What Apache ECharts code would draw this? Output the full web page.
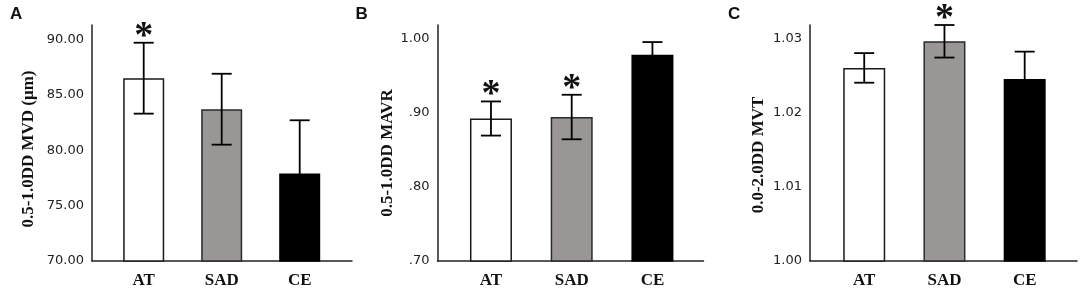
<!DOCTYPE html>
<html>
<head>
<meta charset="utf-8">
<script src="https://cdn.jsdelivr.net/npm/echarts@6/dist/echarts.min.js"></script>
<style>
  html, body { margin: 0; padding: 0; background: #fff; }
  #chart { width: 1084px; height: 291px; }
</style>
</head>
<body>
<div id="chart"></div>
<script>
// groups on the x axis
const categories = ['AT', 'SAD', 'CE'];

// A: 0.5-1.0DD MVD (μm)
const mvdMean = [86.5, 83.7, 77.9];
const mvdErr = [3.2, 3.2, 4.8];
const mvdSig = [1, 0, 0];

// B: 0.5-1.0DD MAVR
const mavrMean = [0.892, 0.894, 0.978];
const mavrErr = [0.023, 0.030, 0.017];
const mavrSig = [1, 1, 0];

// C: 0.0-2.0DD MVT
const mvtMean = [1.0261, 1.0297, 1.0246];
const mvtErr = [0.0020, 0.0022, 0.0037];
const mvtSig = [0, 1, 0];

const barColors = ['#ffffff', '#9a9696', '#000000'];
const barBorders = ['#1a1a1a', '#2a2a2a', '#000000'];

const serif = '"Liberation Serif", "Times New Roman", serif';
const sans = '"DejaVu Sans", sans-serif';

// panel layout: frame = where axis lines go, data = where the bands sit
const panels = [
  {
    letter: 'A', name: '0.5-1.0DD MVD (μm)', mean: mvdMean, err: mvdErr, sig: mvdSig,
    min: 70, max: 91.3, interval: 5, fmt: v => v.toFixed(2),
    frame: { left: 92, width: 260 }, data: { left: 104.7, width: 234 },
    barWidth: 41, nameGap: 55, namePad: 12
  },
  {
    letter: 'B', name: '0.5-1.0DD MAVR', mean: mavrMean, err: mavrErr, sig: mavrSig,
    min: 0.7, max: 1.018, interval: 0.1, fmt: v => v.toFixed(2).replace(/^0/, ''),
    frame: { left: 437.5, width: 266 }, data: { left: 450.6, width: 242.2 },
    barWidth: 42, nameGap: 41, namePad: 20
  },
  {
    letter: 'C', name: '0.0-2.0DD MVT', mean: mvtMean, err: mvtErr, sig: mvtSig,
    min: 1.0, max: 1.0319, interval: 0.01, fmt: v => v.toFixed(2),
    frame: { left: 810, width: 267 }, data: { left: 824.1, width: 240.7 },
    barWidth: 42, nameGap: 43, namePad: 24
  }
];

const plotTop = 25, plotHeight = 236;

const option = {
  animation: false,
  backgroundColor: '#fff',
  title: [], grid: [], xAxis: [], yAxis: [], series: []
};

panels.forEach((p, i) => {
  const fg = i * 2, dg = i * 2 + 1;
  option.title.push({
    text: p.letter, left: p.frame.left - 82, top: 6, padding: 0,
    textStyle: { fontFamily: '"Liberation Sans", Arial, sans-serif', fontWeight: 'bold', fontSize: 17, color: '#111' }
  });
  option.grid.push({ left: p.frame.left, top: plotTop, width: p.frame.width, height: plotHeight });
  option.grid.push({ left: p.data.left, top: plotTop, width: p.data.width, height: plotHeight });

  // frame axes
  option.xAxis.push({
    gridIndex: fg, type: 'value', min: 0, max: 1,
    axisLine: { show: true, onZero: false, lineStyle: { color: '#222', width: 1.5 } },
    axisTick: { show: false }, axisLabel: { show: false }, splitLine: { show: false }
  });
  option.yAxis.push({
    gridIndex: fg, type: 'value', min: p.min, max: p.max, interval: p.interval,
    name: p.name, nameLocation: 'middle', nameGap: p.nameGap,
    nameTextStyle: { fontFamily: serif, fontWeight: 'bold', fontSize: 17, color: '#111', padding: [0, p.namePad, 0, 0] },
    axisLine: { show: true, onZero: false, lineStyle: { color: '#222', width: 1.5 } },
    axisTick: { show: false }, splitLine: { show: false },
    axisLabel: { showMaxLabel: false, margin: 8, color: '#222', fontFamily: sans, fontSize: 13, formatter: p.fmt }
  });

  // data axes
  option.xAxis.push({
    gridIndex: dg, type: 'category', data: categories,
    axisLine: { show: false }, axisTick: { show: false },
    axisLabel: { margin: 11, color: '#111', fontFamily: serif, fontWeight: 'bold', fontSize: 17 }
  });
  option.yAxis.push({ gridIndex: dg, type: 'value', min: p.min, max: p.max, show: false });

  option.series.push({
    type: 'bar', xAxisIndex: dg, yAxisIndex: dg, barWidth: p.barWidth,
    data: p.mean.map((v, k) => ({
      value: v,
      itemStyle: { color: barColors[k], borderColor: barBorders[k], borderWidth: 1.5 }
    }))
  });

  option.series.push({
    type: 'custom', xAxisIndex: dg, yAxisIndex: dg, z: 5,
    data: p.mean.map((v, k) => [k, v, p.err[k], p.sig[k]]),
    renderItem: (params, api) => {
      const x = api.value(0), m = api.value(1), e = api.value(2);
      const hi = api.coord([x, m + e]);
      const lo = api.coord([x, m - e]);
      const cap = 10;
      const style = { stroke: '#000', lineWidth: 1.8 };
      const children = [
        { type: 'line', shape: { x1: hi[0], y1: hi[1], x2: lo[0], y2: lo[1] }, style },
        { type: 'line', shape: { x1: hi[0] - cap, y1: hi[1], x2: hi[0] + cap, y2: hi[1] }, style },
        { type: 'line', shape: { x1: lo[0] - cap, y1: lo[1], x2: lo[0] + cap, y2: lo[1] }, style }
      ];
      if (api.value(3)) {
        children.push({
          type: 'text',
          style: {
            text: '*', x: hi[0], y: hi[1] - 6, align: 'center', verticalAlign: 'middle',
            font: 'bold 38px ' + serif, fill: '#111'
          }
        });
      }
      return { type: 'group', children };
    }
  });
});

const chart = echarts.init(document.getElementById('chart'), null, { renderer: 'canvas' });
chart.setOption(option);
</script>
</body>
</html>
